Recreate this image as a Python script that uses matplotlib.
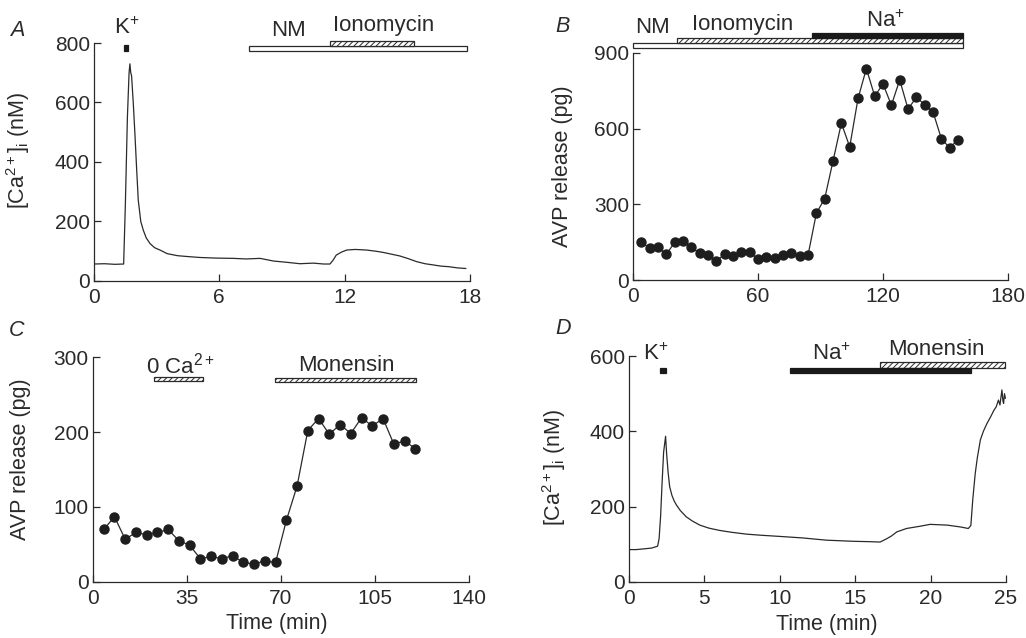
import matplotlib
matplotlib.use("Agg")
import matplotlib.pyplot as plt
from matplotlib.patches import Rectangle

plt.rcParams['font.family'] = ['Liberation Sans', 'DejaVu Sans']
plt.rcParams['mathtext.fontset'] = 'custom'
plt.rcParams['mathtext.rm'] = 'Liberation Sans'
plt.rcParams['mathtext.it'] = 'Liberation Sans:italic'
plt.rcParams['hatch.linewidth'] = 0.7

# ---------------- data ----------------
# Panel A: [Ca2+]i trace (nM) vs time (min)
a_time = [0, 0.5, 1.0, 1.42, 1.5, 1.6, 1.68, 1.72, 1.76, 1.8, 1.88, 1.96, 2.04, 2.12,
          2.24, 2.36, 2.5, 2.68, 2.9, 3.16, 3.5, 4.0, 4.5, 5.07, 5.8, 6.67, 7.3, 7.95,
          8.6, 9.2, 9.86, 10.5, 11.0, 11.3, 11.45, 11.6, 11.85, 12.1, 12.5, 13.05, 13.5,
          13.85, 14.25, 14.65, 15.05, 15.45, 15.85, 16.24, 16.6, 17.0, 17.4, 17.8]
a_ca = [57, 58, 56, 57, 250, 550, 700, 730, 700, 690, 600, 495, 380, 272,
        200, 171, 145, 126, 112, 104, 92, 85, 82, 79, 77, 76, 74, 76,
        67, 63, 58, 60, 57, 57, 70, 87, 97, 104, 106, 104, 100,
        96, 90, 84, 75, 65, 58, 54, 50, 48, 44, 42]

# Panel B: AVP release (pg), samples every 4 min
b_time = [4, 8, 12, 16, 20, 24, 28, 32, 36, 40, 44, 48, 52, 56, 60, 64, 68, 72, 76, 80,
          84, 88, 92, 96, 100, 104, 108, 112, 116, 120, 124, 128, 132, 136, 140, 144,
          148, 152, 156]
b_avp = [150, 126, 130, 102, 150, 156, 130, 106, 99, 77, 102, 95, 110, 112, 82, 93, 86,
         99, 106, 97, 99, 265, 323, 472, 622, 528, 720, 838, 729, 777, 693, 793, 678,
         724, 695, 666, 560, 524, 557]

# Panel C: AVP release (pg)
c_time = [4, 8, 12, 16, 20, 24, 28, 32, 36, 40, 44, 48, 52, 56, 60, 64, 68, 72, 76, 80,
          84, 88, 92, 96, 100, 104, 108, 112, 116, 120]
c_avp = [70, 87, 57, 66, 63, 66, 70, 55, 49, 31, 34, 31, 35, 26, 24, 28, 26, 82, 128,
         202, 218, 197, 210, 198, 219, 208, 218, 184, 188, 178]

# Panel D: [Ca2+]i trace (nM)
d_time = [0, 0.5, 1.0, 1.5, 1.9, 2.0, 2.1, 2.2, 2.3, 2.43, 2.5, 2.6, 2.7, 2.85, 3.0,
          3.14, 3.4, 3.8, 4.2, 4.7, 5.3, 6.0, 6.8, 7.8, 8.8, 10.0, 11.5, 13.1, 14.9,
          16.0, 16.65, 17.1, 17.4, 17.76, 18.4, 19.3, 19.97, 21.1, 22.0, 22.5, 22.67,
          22.8, 22.96, 23.1, 23.3, 23.5, 23.74, 24.0, 24.2, 24.35, 24.5, 24.6, 24.73,
          24.8, 24.84, 24.9, 24.96]
d_ca = [86, 86, 88, 90, 95, 115, 175, 265, 345, 387, 340, 290, 253, 230, 215,
        205, 190, 173, 162, 151, 143, 137, 132, 127, 124, 121, 117, 111, 108,
        107, 106, 115, 122, 133, 142, 148, 153, 151, 146, 142, 150,
        220, 288, 330, 377, 400, 421, 440, 456, 465, 483, 470, 510,
        480, 474, 500, 488]

# Treatment periods (min)
a_k = (1.43, 1.63)
a_nm = (7.4, 17.85)
a_iono = (11.3, 15.3)
b_nm = (0, 158.6)
b_iono = (21.2, 158.6)
b_na = (85.9, 158.6)
c_zero_ca = (22.8, 40.8)
c_mon = (67.9, 120.2)
d_k = (2.04, 2.44)
d_na = (10.67, 22.67)
d_mon = (16.65, 24.96)

# ---------------- drawing ----------------
INK = '#2a2a2a'
FS_TICK = 15
FS_LAB = 15.5
FS_ANN = 16

fig = plt.figure(figsize=(10.26, 6.38), dpi=100)


def make_ax(rect, xlim, ylim, xticks, yticks):
    ax = fig.add_axes(rect)
    ax.set_xlim(*xlim)
    ax.set_ylim(*ylim)
    ax.set_xticks(xticks)
    ax.set_yticks(yticks)
    for s in ('top', 'right'):
        ax.spines[s].set_visible(False)
    for s in ('left', 'bottom'):
        ax.spines[s].set_color(INK)
        ax.spines[s].set_linewidth(0.9)
    ax.tick_params(axis='both', direction='in', length=5, width=0.9, colors=INK,
                   labelsize=FS_TICK, labelcolor=INK)
    ax.tick_params(axis='x', pad=5)
    ax.tick_params(axis='y', pad=3)
    return ax


def bar(ax, span, y0, y1, kind):
    x0, x1 = span
    if kind == 'open':
        r = Rectangle((x0, y0), x1 - x0, y1 - y0, facecolor='white', edgecolor=INK,
                      linewidth=0.9, clip_on=False)
    elif kind == 'hatch':
        r = Rectangle((x0, y0), x1 - x0, y1 - y0, facecolor='white', edgecolor=INK,
                      linewidth=0.9, hatch='//////', clip_on=False)
    else:
        r = Rectangle((x0, y0), x1 - x0, y1 - y0, facecolor='#1a1a1a', edgecolor='#1a1a1a',
                      linewidth=0.9, clip_on=False)
    ax.add_patch(r)


def label(ax, x, y, s, ha='center'):
    ax.text(x, y, s, ha=ha, va='center', fontsize=FS_ANN, color=INK, clip_on=False)


def panel_letter(x, y, s):
    fig.text(x / 1026, 1 - y / 638, s, fontsize=FS_LAB, style='italic', color=INK,
             ha='center', va='center')


# Panel A
axA = make_ax([0.0916, 0.5596, 0.3664, 0.3730], (0, 18), (0, 800), [0, 6, 12, 18],
              [0, 200, 400, 600, 800])
axA.plot(a_time, a_ca, color=INK, lw=0.9)
bar(axA, a_k, 773, 792, 'black')
bar(axA, a_nm, 773, 790, 'open')
bar(axA, a_iono, 790, 806, 'hatch')
label(axA, 1.55, 850, 'K$^{+}$')
label(axA, 9.3, 842, 'NM')
label(axA, 13.85, 858, 'Ionomycin')
axA.set_ylabel('[Ca$^{2+}$]$_{\\mathrm{i}}$ (nM)', fontsize=FS_LAB, color=INK)
axA.yaxis.set_label_coords(-0.165, 0.55)
panel_letter(17, 30, 'A')

# Panel B
axB = make_ax([0.617, 0.561, 0.3655, 0.356], (0, 180), (0, 900), [0, 60, 120, 180],
              [0, 300, 600, 900])
axB.plot(b_time, b_avp, color=INK, lw=0.9, marker='o', markersize=6.5,
         markerfacecolor='#1e1e1e', markeredgecolor='#1e1e1e')
bar(axB, b_nm, 920, 940, 'open')
bar(axB, b_iono, 940, 960, 'hatch')
bar(axB, b_na, 960, 980, 'black')
label(axB, 9.3, 999, 'NM')
label(axB, 52.6, 1012, 'Ionomycin')
label(axB, 121, 1027, 'Na$^{+}$')
axB.set_ylabel('AVP release (pg)', fontsize=FS_LAB, color=INK)
axB.yaxis.set_label_coords(-0.16, 0.5)
panel_letter(563, 27, 'B')

# Panel C
axC = make_ax([0.0906, 0.0878, 0.3665, 0.3526], (0, 140), (0, 300),
              [0, 35, 70, 105, 140], [0, 100, 200, 300])
axC.plot(c_time, c_avp, color=INK, lw=0.9, marker='o', markersize=6.5,
         markerfacecolor='#1e1e1e', markeredgecolor='#1e1e1e')
bar(axC, c_zero_ca, 268, 273, 'hatch')
bar(axC, c_mon, 267, 272, 'hatch')
label(axC, 32.5, 289, '0 Ca$^{2+}$')
label(axC, 94.4, 289, 'Monensin')
axC.set_ylabel('AVP release (pg)', fontsize=FS_LAB, color=INK)
axC.yaxis.set_label_coords(-0.165, 0.547)
axC.set_xlabel('Time (min)', fontsize=FS_LAB, color=INK)
axC.xaxis.set_label_coords(0.49, -0.14)
panel_letter(17, 330, 'C')

# Panel D
axD = make_ax([0.613, 0.0878, 0.3675, 0.3542], (0, 25), (0, 600),
              [0, 5, 10, 15, 20, 25], [0, 200, 400, 600])
axD.plot(d_time, d_ca, color=INK, lw=0.9)
bar(axD, d_k, 556, 569, 'black')
bar(axD, d_mon, 569, 584, 'hatch')
bar(axD, d_na, 556, 567, 'black')
label(axD, 1.8, 604, 'K$^{+}$')
label(axD, 13.4, 604, 'Na$^{+}$')
label(axD, 20.4, 618, 'Monensin')
axD.set_ylabel('[Ca$^{2+}$]$_{\\mathrm{i}}$ (nM)', fontsize=FS_LAB, color=INK)
axD.yaxis.set_label_coords(-0.162, 0.509)
axD.set_xlabel('Time (min)', fontsize=FS_LAB, color=INK)
axD.xaxis.set_label_coords(0.525, -0.14)
panel_letter(563, 328, 'D')

fig.savefig('out.png', dpi=100, facecolor='white')
